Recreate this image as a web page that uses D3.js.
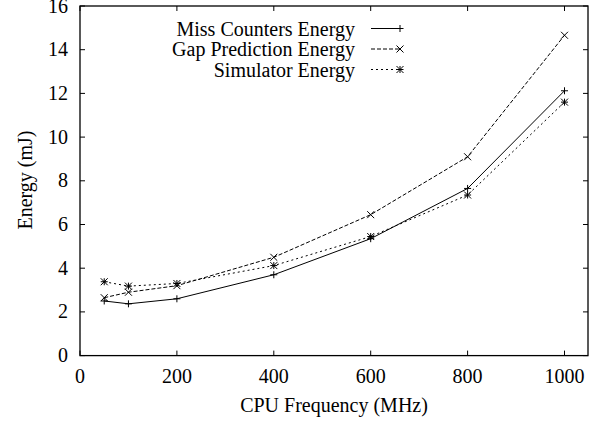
<!DOCTYPE html>
<html><head><meta charset="utf-8">
<script src="https://cdn.jsdelivr.net/npm/d3@7"></script>
<style>body{margin:0;background:#fff}svg{display:block}</style>
</head><body><svg id="c" width="592" height="423" font-family="'Liberation Serif', 'Times New Roman', 'DejaVu Serif', serif"></svg>
<script>
const freqs = [50, 100, 200, 400, 600, 800, 1000];
const missCounters = [2.5, 2.37, 2.6, 3.7, 5.35, 7.65, 12.12];
const gapPrediction = [2.65, 2.9, 3.2, 4.5, 6.45, 9.1, 14.66];
const simulator = [3.38, 3.18, 3.3, 4.12, 5.45, 7.35, 11.6];
const seriesNames = ["Miss Counters Energy", "Gap Prediction Energy", "Simulator Energy"];
const xTicks = [0, 200, 400, 600, 800, 1000];
const yTicks = [0, 2, 4, 6, 8, 10, 12, 14, 16];

const svg = d3.select("#c");
const L = 80, R = 588, T = 6, B = 355.6;
const x = d3.scaleLinear().domain([0, 1048.5]).range([L, R]);
const y = d3.scaleLinear().domain([0, 16]).range([B, T]);
const FS = 20;

const g = svg.append("g");
g.append("rect").attr("x", L).attr("y", T).attr("width", R - L).attr("height", B - T)
  .attr("fill", "none").attr("stroke", "#000").attr("stroke-width", 1.3);

const tl = 5;
xTicks.forEach(t => {
  g.append("line").attr("x1", x(t)).attr("x2", x(t)).attr("y1", B).attr("y2", B - tl).attr("stroke", "#000");
  g.append("line").attr("x1", x(t)).attr("x2", x(t)).attr("y1", T).attr("y2", T + tl).attr("stroke", "#000");
  g.append("text").attr("x", x(t)).attr("y", 383).attr("text-anchor", "middle").attr("font-size", FS).text(t);
});
yTicks.forEach(t => {
  g.append("line").attr("x1", L).attr("x2", L + tl).attr("y1", y(t)).attr("y2", y(t)).attr("stroke", "#000");
  g.append("line").attr("x1", R).attr("x2", R - tl).attr("y1", y(t)).attr("y2", y(t)).attr("stroke", "#000");
  g.append("text").attr("x", 68).attr("y", y(t) + 6.5).attr("text-anchor", "end").attr("font-size", FS).text(t);
});

g.append("text").attr("x", 334).attr("y", 412).attr("text-anchor", "middle").attr("font-size", FS).text("CPU Frequency (MHz)");
g.append("text").attr("transform", "translate(32,180) rotate(-90)").attr("text-anchor", "middle").attr("font-size", FS).text("Energy (mJ)");

const dashes = [null, "4,2", "2,3"];
const allData = [missCounters, gapPrediction, simulator];
const line = d3.line().x((d, i) => x(freqs[i])).y(d => y(d));

function marker(sel, kind, cx, cy) {
  const s = 3.5;
  const p = sel.append("g").attr("stroke", "#000").attr("stroke-width", 1);
  if (kind === 0 || kind === 2) {
    p.append("line").attr("x1", cx - s).attr("x2", cx + s).attr("y1", cy).attr("y2", cy);
    p.append("line").attr("x1", cx).attr("x2", cx).attr("y1", cy - s).attr("y2", cy + s);
  }
  if (kind === 1 || kind === 2) {
    p.append("line").attr("x1", cx - s).attr("x2", cx + s).attr("y1", cy - s).attr("y2", cy + s);
    p.append("line").attr("x1", cx - s).attr("x2", cx + s).attr("y1", cy + s).attr("y2", cy - s);
  }
}

allData.forEach((data, k) => {
  g.append("path").datum(data).attr("d", line).attr("fill", "none").attr("stroke", "#000")
    .attr("stroke-width", 1).attr("stroke-dasharray", dashes[k]);
  data.forEach((v, i) => marker(g, k, x(freqs[i]), y(v)));
});

const legY = [28.5, 49, 69.5];
seriesNames.forEach((n, k) => {
  g.append("text").attr("x", 355).attr("y", legY[k] + 7).attr("text-anchor", "end").attr("font-size", FS).text(n);
  g.append("line").attr("x1", 371).attr("x2", 400).attr("y1", legY[k]).attr("y2", legY[k])
    .attr("stroke", "#000").attr("stroke-dasharray", dashes[k]);
  marker(g, k, 400, legY[k]);
});
</script></body></html>
